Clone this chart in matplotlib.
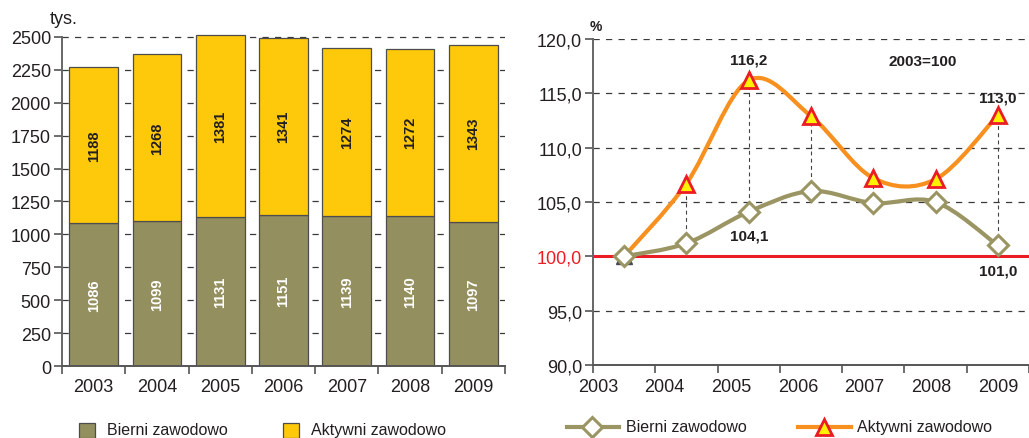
import matplotlib
matplotlib.use("Agg")
import matplotlib.pyplot as plt
import numpy as np
from matplotlib.path import Path
from matplotlib.patches import PathPatch, Rectangle
from matplotlib.lines import Line2D

plt.rcParams['font.family'] = ['Liberation Sans', 'DejaVu Sans']

# ---------------- data ----------------
years = ['2003', '2004', '2005', '2006', '2007', '2008', '2009']
bierni = [1086, 1099, 1131, 1151, 1139, 1140, 1097]
aktywni = [1188, 1268, 1381, 1341, 1274, 1272, 1343]
bierni_idx = [100.0, 101.2, 104.1, 106.0, 104.9, 105.0, 101.0]
aktywni_idx = [100.0, 106.7, 116.2, 112.9, 107.2, 107.1, 113.0]
left_yticks = [0, 250, 500, 750, 1000, 1250, 1500, 1750, 2000, 2250, 2500]
right_yticks = [90, 95, 100, 105, 110, 115, 120]
legend_labels = ['Bierni zawodowo', 'Aktywni zawodowo']

# ---------------- style ----------------
OLIVE = '#948F5E'
YELLOW = '#FFC90B'
ORANGE = '#F7901E'
OLIVE_LINE = '#9A9563'
RED = '#EC1C24'
TRI_FILL = '#FFF200'
TXT = '#231F20'

fig = plt.figure(figsize=(10.29, 4.39), dpi=100)
W, H = 1029, 439

def fx(px):
    return px / W

def fy(py):
    return 1 - py / H

# ---------------- left chart ----------------
axL = fig.add_axes([fx(62), fy(367), fx(505 - 62), (367 - 34) / H])
x = np.arange(len(years))
axL.set_xlim(-0.5, len(years) - 0.5)
axL.set_ylim(0, 2530)
for yv in left_yticks[1:]:
    axL.axhline(yv, color='#3a3a3a', lw=0.9, dashes=(5, 5), zorder=0)
axL.bar(x, bierni, width=0.77, color=OLIVE, edgecolor='#4d4d4d', lw=0.9, zorder=2)
axL.bar(x, aktywni, bottom=bierni, width=0.77, color=YELLOW, edgecolor='#4d4d4d', lw=0.9, zorder=2)
for i in range(len(years)):
    axL.text(x[i], bierni[i] / 2, str(bierni[i]), rotation=90, ha='center', va='center',
             color='white', fontsize=10.5, fontweight='bold', zorder=3)
    axL.text(x[i], bierni[i] + aktywni[i] / 2, str(aktywni[i]), rotation=90, ha='center',
             va='center', color=TXT, fontsize=10.5, fontweight='bold', zorder=3)
axL.set_yticks(left_yticks)
axL.set_yticklabels([str(v) for v in left_yticks], fontsize=13, color=TXT)
axL.set_xticks(np.arange(len(years) + 1) - 0.5)
axL.set_xticklabels([])
axL.set_xticks(x, minor=True)
axL.set_xticklabels(years, minor=True, fontsize=13, color=TXT)
axL.tick_params(axis='x', which='minor', length=0, pad=9)
axL.tick_params(axis='x', which='major', length=6, width=1.2, color='#555555', direction='out')
axL.tick_params(axis='y', length=6, width=1.2, color='#555555', pad=2)
for s in ['top', 'right']:
    axL.spines[s].set_visible(False)
axL.spines['left'].set_bounds(0, 2500)
axL.spines['left'].set_color('#666666')
axL.spines['left'].set_linewidth(1.4)
axL.spines['bottom'].set_color('#555555')
axL.spines['bottom'].set_linewidth(1.4)
fig.text(fx(64), fy(20), 'tys.', fontsize=13, color=TXT, ha='center', va='center')

# ---------------- right chart ----------------
axR = fig.add_axes([fx(593), fy(366), 1 - fx(593), (366 - 40) / H])
axR.set_xlim(-0.5, len(years) - 0.5)
axR.set_ylim(90, 120)
for yv in right_yticks[1:]:
    if yv != 100:
        axR.axhline(yv, color='#3a3a3a', lw=0.9, dashes=(5, 5), zorder=0)
axR.axhline(100, color=RED, lw=2.2, zorder=1)

# droplines
for i in range(1, len(years)):
    axR.plot([x[i], x[i]], [bierni_idx[i], aktywni_idx[i]], color='#444444', lw=0.8,
             dashes=(3.5, 3), zorder=1)


def smooth_path(xs, ys):
    pts = np.column_stack([xs, ys]).astype(float)
    n = len(pts)
    verts = [pts[0]]
    codes = [Path.MOVETO]
    for i in range(n - 1):
        p0 = pts[i - 1] if i > 0 else pts[i]
        p1 = pts[i]
        p2 = pts[i + 1]
        p3 = pts[i + 2] if i + 2 < n else pts[i + 1]
        c1 = p1 + (p2 - p0) / 6.0
        c2 = p2 - (p3 - p1) / 6.0
        verts += [c1, c2, p2]
        codes += [Path.CURVE4] * 3
    return Path(verts, codes)


axR.add_patch(PathPatch(smooth_path(x, aktywni_idx), fill=False, edgecolor=ORANGE, lw=3.0,
                        zorder=3, capstyle='round', joinstyle='round'))
axR.add_patch(PathPatch(smooth_path(x, bierni_idx), fill=False, edgecolor=OLIVE_LINE, lw=3.0,
                        zorder=4, capstyle='round', joinstyle='round'))
axR.plot(x[1:], aktywni_idx[1:], linestyle='none', marker='^', markersize=12,
         markerfacecolor=TRI_FILL, markeredgecolor=RED, markeredgewidth=2.0, zorder=5)
axR.plot(x[:1], aktywni_idx[:1], linestyle='none', marker='^', markersize=12,
         markerfacecolor='#4a4c55', markeredgecolor='#4a4c55', zorder=5)
axR.plot(x, bierni_idx, linestyle='none', marker='D', markersize=10,
         markerfacecolor='white', markeredgecolor=OLIVE_LINE, markeredgewidth=2.2, zorder=6)


def fmt(v):
    return f'{v:.1f}'.replace('.', ',')


axR.annotate(fmt(aktywni_idx[2] if aktywni_idx[2] else 0), (x[2], aktywni_idx[2]),
             xytext=(0, 15), textcoords='offset points', ha='center', va='center',
             fontsize=11, fontweight='bold', color=TXT)
axR.annotate(fmt(aktywni_idx[6]), (x[6], aktywni_idx[6]), xytext=(0, 13),
             textcoords='offset points', ha='center', va='center', fontsize=11,
             fontweight='bold', color=TXT)
axR.annotate(fmt(bierni_idx[2]), (x[2], bierni_idx[2]), xytext=(0, -17),
             textcoords='offset points', ha='center', va='center', fontsize=11,
             fontweight='bold', color=TXT)
axR.annotate(fmt(bierni_idx[6]), (x[6], bierni_idx[6]), xytext=(0, -18),
             textcoords='offset points', ha='center', va='center', fontsize=11,
             fontweight='bold', color=TXT)
axR.text(4.8, 118.0, '2003=100', ha='center', va='center', fontsize=11,
         fontweight='bold', color=TXT)

axR.set_yticks(right_yticks)
axR.set_yticklabels([fmt(v) for v in right_yticks], fontsize=13, color=TXT)
for lab, v in zip(axR.get_yticklabels(), right_yticks):
    if v == 100:
        lab.set_color(RED)
axR.set_xticks(np.arange(len(years) + 1) - 0.5)
axR.set_xticklabels([])
axR.set_xticks(np.linspace(-0.42, 6.0, len(years)), minor=True)
axR.set_xticklabels(years, minor=True, fontsize=13, color=TXT)
axR.tick_params(axis='x', which='minor', length=0, pad=9)
axR.tick_params(axis='x', which='major', length=6, width=1.2, color='#555555', direction='out')
axR.tick_params(axis='y', length=6, width=1.2, color='#555555', pad=2)
for s in ['top', 'right']:
    axR.spines[s].set_visible(False)
axR.spines['left'].set_color('#666666')
axR.spines['left'].set_linewidth(1.4)
axR.spines['bottom'].set_color('#555555')
axR.spines['bottom'].set_linewidth(1.4)
fig.text(fx(596), fy(27), '%', fontsize=10, fontweight='bold', color=TXT, ha='center', va='center')

# ---------------- legends ----------------
fig.patches.append(Rectangle((fx(79), fy(439)), fx(16), 15 / H, transform=fig.transFigure,
                             facecolor=OLIVE, edgecolor='#4d4d4d', lw=0.9))
fig.text(fx(107), fy(431), legend_labels[0], fontsize=11.5, color=TXT, va='center', ha='left')
fig.patches.append(Rectangle((fx(283), fy(439)), fx(16), 15 / H, transform=fig.transFigure,
                             facecolor=YELLOW, edgecolor='#4d4d4d', lw=0.9))
fig.text(fx(311), fy(431), legend_labels[1], fontsize=11.5, color=TXT, va='center', ha='left')

fig.lines.append(Line2D([fx(567), fx(619)], [fy(428), fy(428)], transform=fig.transFigure,
                        color=OLIVE_LINE, lw=3.0))
fig.lines.append(Line2D([fx(592)], [fy(428)], transform=fig.transFigure, marker='D',
                        markersize=10, markerfacecolor='white', markeredgecolor=OLIVE_LINE,
                        markeredgewidth=2.2, linestyle='none'))
fig.text(fx(626), fy(428), legend_labels[0], fontsize=11.5, color=TXT, va='center', ha='left')
fig.lines.append(Line2D([fx(798), fx(851)], [fy(428), fy(428)], transform=fig.transFigure,
                        color=ORANGE, lw=3.0))
fig.lines.append(Line2D([fx(824)], [fy(428)], transform=fig.transFigure, marker='^',
                        markersize=12, markerfacecolor=TRI_FILL, markeredgecolor=RED,
                        markeredgewidth=2.0, linestyle='none'))
fig.text(fx(857), fy(428), legend_labels[1], fontsize=11.5, color=TXT, va='center', ha='left')

fig.savefig('out.png', dpi=100)
